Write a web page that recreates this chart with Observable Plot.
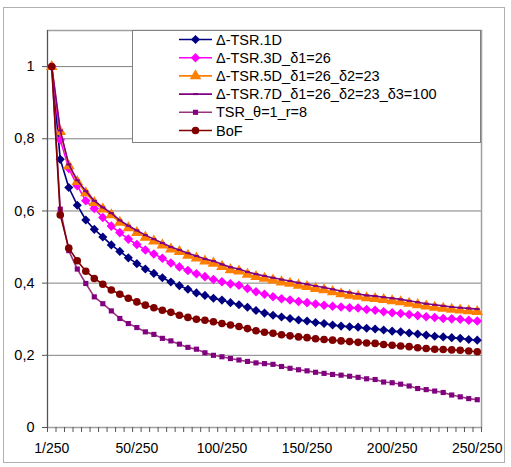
<!DOCTYPE html>
<html><head><meta charset="utf-8">
<script src="https://cdn.jsdelivr.net/npm/d3@7"></script>
<script src="https://cdn.jsdelivr.net/npm/@observablehq/plot@0.6"></script>
<style>
body{margin:0;background:#fff}
#wrap{position:relative;width:511px;height:467px;font-family:"Liberation Sans",Arial,sans-serif}
#wrap svg{position:absolute;left:0;top:0}
</style>
</head><body><div id="wrap"></div>
<script>
const numerators = [1,5,10,15,20,25,30,35,40,45,50,55,60,65,70,75,80,85,90,95,100,105,110,115,120,125,130,135,140,145,150,155,160,165,170,175,180,185,190,195,200,205,210,215,220,225,230,235,240,245,250];
const categories = numerators.map(n => n + "/250");
const xTickIndex = [0,10,20,30,40,50];
const yTicks = [0,0.2,0.4,0.6,0.8,1];
const yTickLabels = ["0","0,2","0,4","0,6","0,8","1"];

const seriesNames = ["Δ-TSR.1D","Δ-TSR.3D_δ1=26","Δ-TSR.5D_δ1=26_δ2=23","Δ-TSR.7D_δ1=26_δ2=23_δ3=100","TSR_θ=1_r=8","BoF"];

const tsr1D = [1.0,0.743,0.665,0.616,0.575,0.549,0.528,0.506,0.488,0.470,0.454,0.439,0.427,0.415,0.403,0.393,0.383,0.373,0.366,0.358,0.353,0.346,0.340,0.333,0.324,0.317,0.311,0.306,0.302,0.298,0.295,0.291,0.288,0.284,0.281,0.279,0.278,0.275,0.273,0.270,0.267,0.265,0.262,0.259,0.256,0.253,0.251,0.249,0.247,0.244,0.242];
const tsr3D = [1.0,0.797,0.718,0.670,0.628,0.607,0.582,0.558,0.540,0.522,0.507,0.492,0.481,0.469,0.456,0.445,0.435,0.426,0.418,0.410,0.404,0.398,0.394,0.385,0.376,0.369,0.362,0.357,0.353,0.349,0.346,0.342,0.339,0.336,0.334,0.332,0.331,0.327,0.325,0.321,0.318,0.316,0.313,0.310,0.307,0.305,0.302,0.301,0.300,0.297,0.295];
const tsr5D = [1.0,0.820,0.725,0.681,0.650,0.623,0.605,0.589,0.568,0.553,0.540,0.527,0.516,0.505,0.494,0.487,0.477,0.469,0.461,0.455,0.446,0.437,0.433,0.424,0.418,0.413,0.408,0.403,0.399,0.394,0.390,0.385,0.381,0.376,0.370,0.366,0.363,0.359,0.357,0.354,0.351,0.348,0.344,0.340,0.336,0.333,0.330,0.327,0.325,0.323,0.321];
const tsr7D = [1.0,0.823,0.729,0.685,0.655,0.628,0.610,0.594,0.574,0.559,0.546,0.533,0.522,0.511,0.500,0.492,0.483,0.475,0.467,0.461,0.452,0.444,0.439,0.431,0.425,0.420,0.415,0.410,0.406,0.401,0.397,0.392,0.388,0.383,0.378,0.374,0.370,0.366,0.364,0.361,0.358,0.355,0.351,0.347,0.343,0.340,0.337,0.334,0.332,0.330,0.328];
const tsrTheta = [1.0,0.605,0.490,0.439,0.399,0.362,0.343,0.323,0.302,0.288,0.277,0.265,0.258,0.247,0.240,0.231,0.222,0.217,0.207,0.200,0.196,0.191,0.187,0.183,0.179,0.177,0.175,0.169,0.164,0.160,0.157,0.153,0.150,0.147,0.145,0.142,0.139,0.135,0.133,0.126,0.124,0.120,0.115,0.108,0.105,0.101,0.097,0.090,0.085,0.080,0.077];
const bof = [1.0,0.589,0.497,0.462,0.433,0.413,0.397,0.381,0.369,0.358,0.348,0.339,0.332,0.325,0.319,0.311,0.305,0.300,0.297,0.293,0.288,0.284,0.280,0.274,0.268,0.264,0.261,0.257,0.254,0.251,0.249,0.246,0.244,0.242,0.240,0.238,0.236,0.234,0.233,0.230,0.228,0.226,0.224,0.221,0.219,0.217,0.216,0.215,0.214,0.212,0.210];

const dashSymbol = {draw(ctx){ ctx.rect(-2.5,-1,5,2); }};
const styles = [
  {values: tsr1D,    line:"#000080", fill:"#000080", symbol:"diamond2", r:4.1},
  {values: tsr3D,    line:"#ff00ff", fill:"#ff00ff", symbol:"diamond2", r:4.3},
  {values: tsr5D,    line:"#ff7f00", fill:"#ff7f00", symbol:"triangle", r:4.3},
  {values: tsr7D,    line:"#800080", fill:"#800080", symbol:dashSymbol, r:2},
  {values: tsrTheta, line:"#993380", fill:"#800080", symbol:"square",   r:2.9},
  {values: bof,      line:"#800000", fill:"#800000", symbol:"circle",   r:3.8}
];

const marks = [
  Plot.gridY(yTicks.slice(1), {stroke:"#808080", strokeOpacity:1}),
  Plot.frame({stroke:"#a0a0a0", strokeWidth:1.5}),
  Plot.ruleX([-0.5], {stroke:"#555"}),
  Plot.axisY({ticks: yTicks, tickFormat: d => yTickLabels[yTicks.indexOf(d)], tickSize:5, tickPadding:8, fontSize:14.5, label:null, stroke:"#555"}),
  Plot.axisX({ticks: d3.range(-0.5, 51, 1), tickSize:5, tickFormat: () => "", label:null, stroke:"#555"}),
  Plot.axisX({ticks: xTickIndex, tickSize:0, tickPadding:16, tickFormat: i => categories[i], fontSize:14, label:null})
];
styles.forEach((s, k) => {
  const rows = s.values.map((v, i) => ({i, v, series: seriesNames[k]}));
  marks.push(Plot.line(rows, {x:"i", y:"v", stroke:s.line, strokeWidth:1.6}));
  marks.push(Plot.dot(rows, {x:"i", y:"v", symbol:s.symbol, r:s.r, fill:s.fill, stroke:"none"}));
});

const chart = Plot.plot({
  width: 511, height: 467,
  marginLeft: 47, marginRight: 30, marginTop: 30, marginBottom: 40,
  style: {fontFamily: '"Liberation Sans", Arial, sans-serif', fontSize: "14.5px", color:"#000", background:"transparent"},
  x: {type:"linear", domain:[-0.5, 50.5]},
  y: {domain:[0, 1.1]},
  marks
});
const wrap = document.getElementById("wrap");
wrap.appendChild(chart);

// Overlay: outer frame and legend
const ov = d3.select(wrap).append("svg").attr("width",511).attr("height",467)
  .style("pointer-events","none");
ov.append("rect").attr("x",3.5).attr("y",7.5).attr("width",501).attr("height",455)
  .attr("fill","none").attr("stroke","#b0b0b0");
ov.append("rect").attr("x",132.5).attr("y",30.5).attr("width",348).attr("height",112)
  .attr("fill","#fff").attr("stroke","#808080");
styles.forEach((s, k) => {
  const y = 39.5 + 18.2 * k;
  ov.append("line").attr("x1",179).attr("x2",212).attr("y1",y).attr("y2",y)
    .attr("stroke", s.line).attr("stroke-width",1.6);
  const sym = typeof s.symbol === "string"
    ? ({diamond2:d3.symbolDiamond2, triangle:d3.symbolTriangle, square:d3.symbolSquare, circle:d3.symbolCircle})[s.symbol]
    : s.symbol;
  ov.append("path").attr("transform",`translate(195.5,${y})`)
    .attr("d", d3.symbol(sym, Math.PI * s.r * s.r)()).attr("fill", s.fill);
  ov.append("text").attr("x",216).attr("y",y).attr("dy","0.35em")
    .attr("font-size","14.5px").attr("font-family",'"Liberation Sans", Arial, sans-serif')
    .text(seriesNames[k]);
});
</script>
</body></html>
